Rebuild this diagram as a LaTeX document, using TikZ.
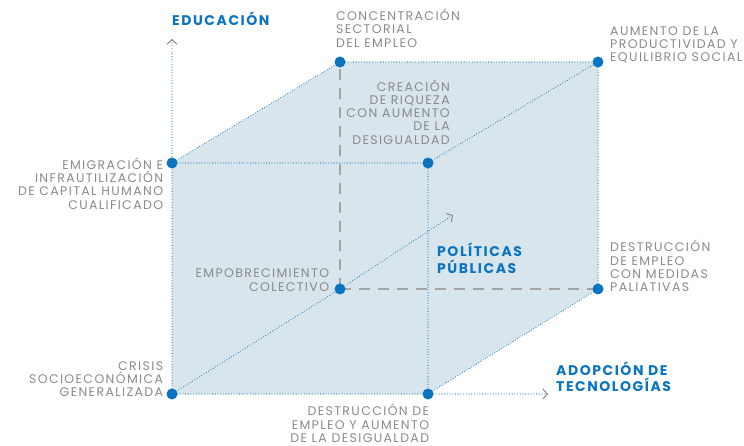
\documentclass[tikz,border=0pt]{standalone}
\usepackage{fontspec}
\setmainfont{Poppins}[LetterSpace=11]
\usetikzlibrary{arrows.meta}
\definecolor{cblue}{HTML}{0A74C0}
\definecolor{cgray}{HTML}{8A8A8A}
\definecolor{cfill}{HTML}{D8E5EC}
\definecolor{cdash}{HTML}{A3A3A3}
\tikzset{
 pt/.style={circle, fill=cblue, inner sep=0pt, minimum size=11pt},
 dotline/.style={cblue, line width=1.1pt, dash pattern=on 0pt off 2.7pt, line cap=round},
 hidden/.style={cdash, line width=1.3pt, dash pattern=on 11pt off 8pt},
 axistip/.style={-{Straight Barb[length=4.5pt,width=10pt,line width=1pt,color=cgray]}},
 lbl/.style={text=cgray, font=\fontsize{12.5}{13.3}\selectfont, inner sep=0pt},
 ttl/.style={text=cblue, font=\fontsize{14}{16.3}\selectfont\bfseries, inner sep=0pt},
}
\begin{document}
\begin{tikzpicture}[x=1pt,y=-1pt]
\useasboundingbox (0,0) rectangle (744,446);
% corners
\coordinate (a) at (172,394);
\coordinate (b) at (428,394);
\coordinate (c) at (172,163);
\coordinate (d) at (428,163);
\coordinate (e) at (340,289);
\coordinate (f) at (598,289);
\coordinate (g) at (340,62);
\coordinate (h) at (598,62);
\coordinate (ytip) at (172,39);
\coordinate (xtip) at (548,394);
\coordinate (ztip) at (453,215);
% fill
\fill[cfill] (a) -- (c) -- (g) -- (h) -- (f) -- (b) -- cycle;
% hidden edges
\draw[hidden] (e) -- (g);
\draw[hidden] (e) -- (f);
% axes
\draw[dotline, axistip] (a) -- (c) -- (ytip);
\draw[dotline, axistip] (a) -- (b) -- (xtip);
\draw[dotline, axistip] (a) -- (e) -- (ztip);
% visible edges
\draw[dotline] (c) -- (d);
\draw[dotline] (c) -- (g);
\draw[dotline] (g) -- (h);
\draw[dotline] (h) -- (f);
\draw[dotline] (d) -- (h);
\draw[dotline] (d) -- (b);
\draw[dotline] (b) -- (f);
% dots
\foreach \p in {a,b,c,d,e,f,g,h} \node[pt] (n\p) at (\p) {};
% titles
\node[ttl, anchor=base west, align=left] (tedu) at (172,26) {EDUCACIÓN};
\node[ttl, anchor=base west, align=left] (tpol) at (437,273) {POLÍTICAS\\PÚBLICAS};
\node[ttl, anchor=base west, align=left] (tado) at (556,391.7) {ADOPCIÓN DE\\TECNOLOGÍAS};
% labels
\node[lbl, anchor=base west, align=left] (lg) at (336,47.3) {CONCENTRACIÓN\\SECTORIAL\\DEL EMPLEO};
\node[lbl, anchor=base west, align=left] (lh) at (610,62) {AUMENTO DE LA\\PRODUCTIVIDAD Y\\EQUILIBRIO SOCIAL};
\node[lbl, anchor=base east, align=right] (ld) at (450,144.3) {CREACIÓN\\DE RIQUEZA\\CON AUMENTO\\DE LA\\DESIGUALDAD};
\node[lbl, anchor=base east, align=right] (lc) at (163.3,209.3) {EMIGRACIÓN E\\INFRAUTILIZACIÓN\\DE CAPITAL HUMANO\\CUALIFICADO};
\node[lbl, anchor=base east, align=right] (le) at (329.3,291) {EMPOBRECIMIENTO\\COLECTIVO};
\node[lbl, anchor=base west, align=left] (lf) at (610,291.7) {DESTRUCCIÓN\\DE EMPLEO\\CON MEDIDAS\\PALIATIVAS};
\node[lbl, anchor=base east, align=right] (la) at (163.3,396.7) {CRISIS\\SOCIOECONÓMICA\\GENERALIZADA};
\node[lbl, anchor=base east, align=right] (lb) at (429.3,442.3) {DESTRUCCIÓN DE\\EMPLEO Y AUMENTO\\DE LA DESIGUALDAD};
\end{tikzpicture}
\end{document}
